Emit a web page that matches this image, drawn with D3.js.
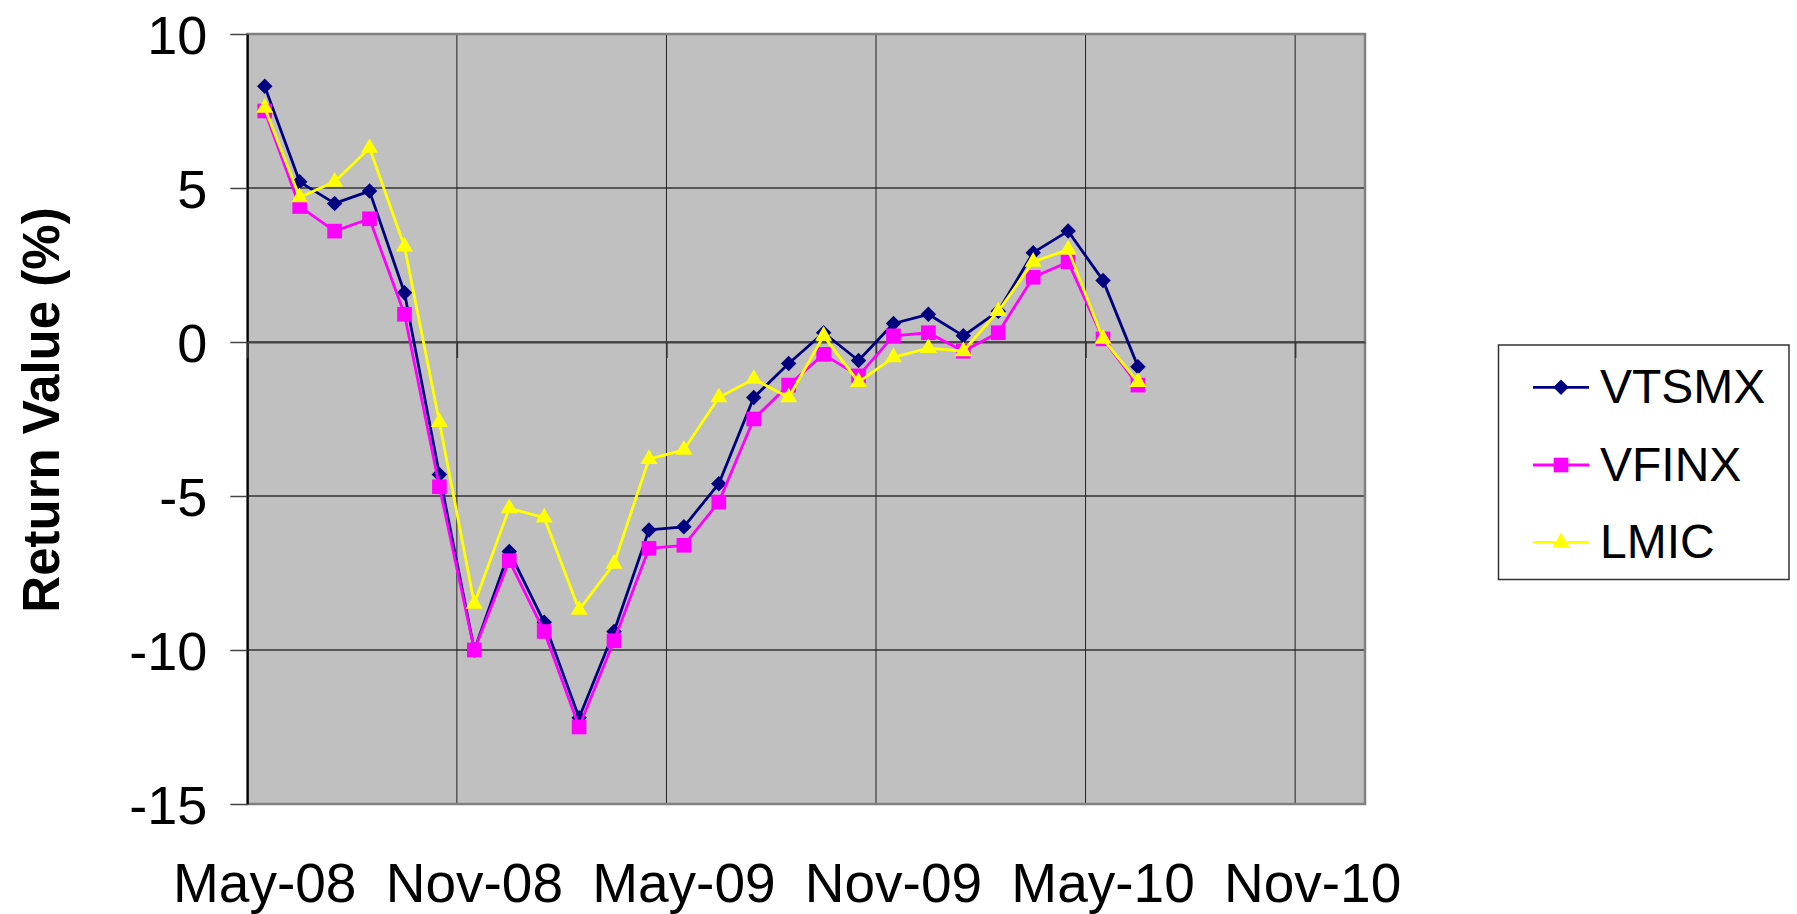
<!DOCTYPE html>
<html>
<head>
<meta charset="utf-8">
<script src="https://cdn.jsdelivr.net/npm/d3@7/dist/d3.min.js"></script>
<style>
  html, body { margin: 0; padding: 0; background: #fff; }
  svg { display: block; }
  text { font-family: "Liberation Sans", Arial, sans-serif; fill: #000; }
</style>
</head>
<body>
<svg id="chart" width="1797" height="914"></svg>
<script>
// ---- data ----
const categories = ["May-08","Jun-08","Jul-08","Aug-08","Sep-08","Oct-08","Nov-08","Dec-08",
  "Jan-09","Feb-09","Mar-09","Apr-09","May-09","Jun-09","Jul-09","Aug-09","Sep-09","Oct-09",
  "Nov-09","Dec-09","Jan-10","Feb-10","Mar-10","Apr-10","May-10","Jun-10"];
const VTSMX = [8.3, 5.2, 4.5, 4.9, 1.6, -4.3, -10.0, -6.8, -9.1, -12.2, -9.4, -6.1, -6.0,
  -4.6, -1.8, -0.7, 0.3, -0.6, 0.6, 0.9, 0.2, 1.0, 2.9, 3.6, 2.0, -0.8];
const VFINX = [7.5, 4.4, 3.6, 4.0, 0.9, -4.7, -10.0, -7.1, -9.4, -12.5, -9.7, -6.7, -6.6,
  -5.2, -2.5, -1.4, -0.4, -1.1, 0.2, 0.3, -0.3, 0.3, 2.1, 2.6, 0.1, -1.4];
const LMIC = [7.6, 4.7, 5.2, 6.3, 3.1, -2.6, -8.5, -5.4, -5.7, -8.7, -7.2, -3.8, -3.5,
  -1.8, -1.2, -1.8, 0.2, -1.3, -0.5, -0.2, -0.3, 1.0, 2.6, 3.0, 0.1, -1.3];
const xTickLabels = ["May-08","Nov-08","May-09","Nov-09","May-10","Nov-10"];
const yTicks = [-15, -10, -5, 0, 5, 10];
const seriesNames = ["VTSMX", "VFINX", "LMIC"];

// ---- layout ----
const svg = d3.select("#chart");
const plot = { left: 247.3, right: 1365, top: 34, bottom: 804 };
const monthsSpan = 32; // axis spans May-08 .. Jan-11
const x = d3.scaleLinear().domain([0, monthsSpan]).range([plot.left, plot.right]);
const y = d3.scaleLinear().domain([-15, 10]).range([plot.bottom, plot.top]);
const tickMonths = xTickLabels.map((d, i) => i * 6);

const series = [
  { name: seriesNames[0], values: VTSMX, color: "#000080", shape: "diamond" },
  { name: seriesNames[1], values: VFINX, color: "#FF00FF", shape: "square" },
  { name: seriesNames[2], values: LMIC, color: "#FFFF00", shape: "triangle" }
];

// plot background
svg.append("rect")
  .attr("x", plot.left).attr("y", plot.top)
  .attr("width", plot.right - plot.left).attr("height", plot.bottom - plot.top)
  .attr("fill", "#C0C0C0");

// horizontal gridlines
svg.append("g").selectAll("line").data(yTicks).join("line")
  .attr("x1", plot.left).attr("x2", plot.right)
  .attr("y1", d => y(d)).attr("y2", d => y(d))
  .attr("stroke", "#333").attr("stroke-width", 1.5);

// vertical gridlines
svg.append("g").selectAll("line").data(tickMonths.slice(1)).join("line")
  .attr("x1", d => x(d)).attr("x2", d => x(d))
  .attr("y1", plot.top).attr("y2", plot.bottom)
  .attr("stroke", "#222").attr("stroke-width", 1);

// plot border
svg.append("rect")
  .attr("x", plot.left).attr("y", plot.top)
  .attr("width", plot.right - plot.left).attr("height", plot.bottom - plot.top)
  .attr("fill", "none").attr("stroke", "#808080").attr("stroke-width", 2.5);

// y axis
const yAxis = d3.axisLeft(y).tickValues(yTicks).tickSize(17).tickSizeOuter(0).tickFormat(d3.format("d"));
const gy = svg.append("g").attr("transform", `translate(${plot.left},0)`).call(yAxis);
gy.select(".domain").attr("stroke", "#000").attr("stroke-width", 2);
gy.selectAll(".tick line").attr("stroke", "#444").attr("stroke-width", 1.5);
gy.selectAll(".tick text")
  .attr("x", -40).attr("dy", null).attr("y", 19)
  .style("font-family", "'Liberation Sans', Arial, sans-serif")
  .style("font-size", "54px").attr("fill", "#000")
  .text(d => d < 0 ? "-" + Math.abs(d) : d);

// x axis crossing at 0 (ticks only), labels at bottom
const xAxis = d3.axisBottom(x).tickValues(tickMonths).tickSize(16).tickSizeOuter(0).tickFormat("");
const gx = svg.append("g").attr("transform", `translate(0,${y(0)})`).call(xAxis);
gx.select(".domain").attr("stroke", "#444").attr("stroke-width", 2);
gx.selectAll(".tick line").attr("stroke", "#333").attr("stroke-width", 1.5);

svg.append("g").selectAll("text").data(xTickLabels).join("text")
  .attr("x", (d, i) => x(tickMonths[i] + 0.5))
  .attr("y", 902)
  .attr("text-anchor", "middle")
  .style("font-size", "55px")
  .text(d => d);

// y axis title
svg.append("text")
  .attr("transform", "translate(59,410) rotate(-90)")
  .attr("text-anchor", "middle")
  .style("font-size", "51px").style("font-weight", "bold")
  .text("Return Value (%)");

// markers
function markerPath(shape) {
  if (shape === "diamond") return d3.symbol().type(d3.symbolSquare).size(120)();
  if (shape === "square") return d3.symbol().type(d3.symbolSquare).size(215)();
  return d3.symbol().type(d3.symbolTriangle).size(125)();
}
function markerTransform(shape, px, py) {
  return shape === "diamond" ? `translate(${px},${py}) rotate(45)` : `translate(${px},${py})`;
}

const line = d3.line().x((d, i) => x(i + 0.5)).y(d => y(d));
series.forEach(s => {
  const g = svg.append("g");
  g.append("path").datum(s.values)
    .attr("d", line).attr("fill", "none")
    .attr("stroke", s.color).attr("stroke-width", 2.8).attr("stroke-linejoin", "round");
  g.selectAll("path.m").data(s.values).join("path").attr("class", "m")
    .attr("d", markerPath(s.shape))
    .attr("transform", (d, i) => markerTransform(s.shape, x(i + 0.5), y(d)))
    .attr("fill", s.color);
});

// legend
const lg = svg.append("g");
lg.append("rect").attr("x", 1498.5).attr("y", 345).attr("width", 290.5).attr("height", 234.5)
  .attr("fill", "#fff").attr("stroke", "#333").attr("stroke-width", 1.5);
const rowY = [387.3, 465, 542.3];
series.forEach((s, i) => {
  lg.append("line").attr("x1", 1533).attr("x2", 1589).attr("y1", rowY[i]).attr("y2", rowY[i])
    .attr("stroke", s.color).attr("stroke-width", 2.8);
  lg.append("path").attr("d", markerPath(s.shape))
    .attr("transform", markerTransform(s.shape, 1561, rowY[i])).attr("fill", s.color);
  lg.append("text").attr("x", 1600).attr("y", rowY[i] + 16)
    .style("font-size", "48px").text(s.name);
});
</script>
</body>
</html>
